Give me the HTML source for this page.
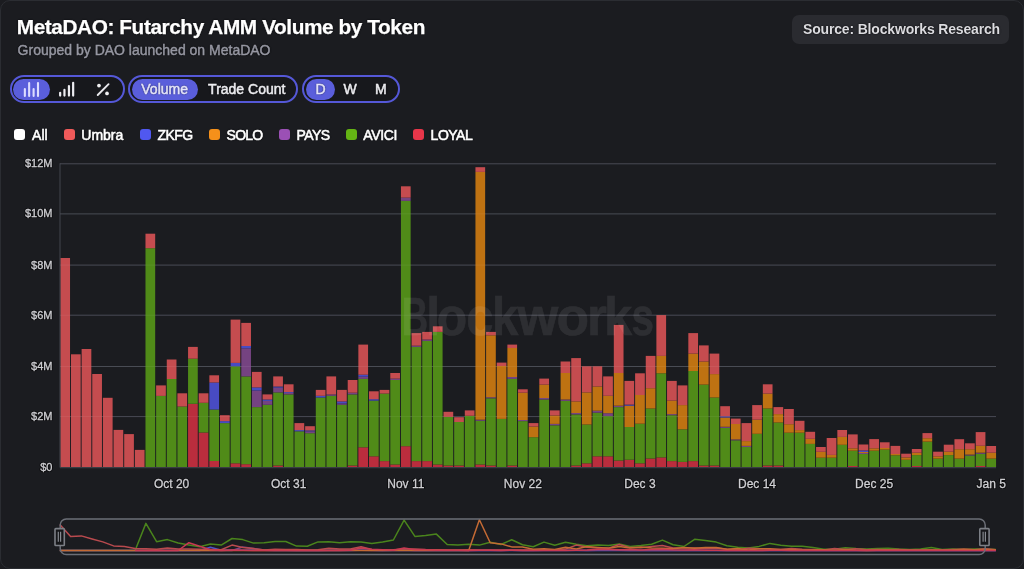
<!DOCTYPE html>
<html><head><meta charset="utf-8"><title>MetaDAO: Futarchy AMM Volume by Token</title>
<style>
html,body{margin:0;padding:0;background:#1b1c20;}
body{width:1024px;height:569px;overflow:hidden;position:relative;font-family:"Liberation Sans",Arial,sans-serif;}
.card{position:absolute;left:0;top:0;width:1022px;height:567px;border:1px solid #2b2d32;border-radius:10px;background:#1b1c20;}
.abs{position:absolute;white-space:nowrap;}
.halo{text-shadow:0 0 1.2px rgba(0,0,0,0.9),0 0 1.2px rgba(0,0,0,0.6);}
.title{left:16.8px;top:15px;font-size:20.8px;font-weight:700;color:#ffffff;letter-spacing:-0.42px;line-height:24px;-webkit-text-stroke:0.25px #fff;}
.sub{left:17.6px;top:41px;font-size:14px;color:#9697a2;line-height:18px;-webkit-text-stroke:0.45px #9697a2;}
.src{left:792px;top:15px;width:217px;height:29px;border-radius:7px;background:#2a2b30;}
.srct{left:803px;top:20px;font-size:14px;font-weight:700;color:#dcdce0;letter-spacing:-0.17px;line-height:18px;}
.pill{position:absolute;top:75px;height:24px;border:2px solid #5558d8;border-radius:14px;background:#17181c;}
.act{position:absolute;top:78.5px;height:21px;border-radius:11px;background:#5a5edb;}
.tg{position:absolute;top:79.7px;font-size:14px;line-height:18px;color:#ececf0;white-space:nowrap;-webkit-text-stroke:0.5px currentColor;}
.sw{position:absolute;top:129.2px;width:11px;height:11px;border-radius:3px;}
.lg{position:absolute;top:126.1px;font-size:14px;line-height:18px;color:#ffffff;white-space:nowrap;-webkit-text-stroke:0.55px currentColor;}
.chart{position:absolute;left:0;top:0;}
</style></head><body>
<div class="card"></div>
<div class="abs title halo">MetaDAO: Futarchy AMM Volume by Token</div>
<div class="abs sub halo">Grouped by DAO launched on MetaDAO</div>
<div class="abs src"></div>
<div class="abs srct halo">Source: Blockworks Research</div>

<div class="pill" style="left:10px;width:110.5px"></div>
<div class="act" style="left:13px;width:36.5px"></div>
<div class="pill" style="left:128.4px;width:165.7px"></div>
<div class="act" style="left:131.5px;width:66.4px"></div>
<div class="pill" style="left:302.3px;width:93.3px"></div>
<div class="act" style="left:305.8px;width:29px"></div>

<svg class="abs" style="left:22px;top:81px" width="20" height="16" viewBox="0 0 20 16"><g fill="#dcdcff"><rect x="1.8" y="6.9" width="2.1" height="9" rx="1"/><rect x="6.1" y="1.1" width="2.1" height="14.8" rx="1"/><rect x="10.55" y="6.9" width="2.1" height="9" rx="1"/><rect x="14.95" y="1.1" width="2.1" height="14.8" rx="1"/></g></svg>
<svg class="abs" style="left:57px;top:81.2px" width="20" height="16" viewBox="0 0 20 16"><g fill="#ececf0"><rect x="2.05" y="10.7" width="2.2" height="5" rx="1.1"/><rect x="6.35" y="7.8" width="2.2" height="7.9" rx="1.1"/><rect x="10.85" y="4" width="2.2" height="11.7" rx="1.1"/><rect x="15.05" y="0.7" width="2.2" height="15" rx="1.1"/></g></svg>
<svg class="abs" style="left:93px;top:81px" width="20" height="16" viewBox="0 0 20 16"><g fill="#f0f0f2"><circle cx="5.97" cy="4.54" r="1.85"/><circle cx="14.01" cy="12.47" r="1.85"/></g><line x1="15.56" y1="3.19" x2="4.73" y2="14.01" stroke="#e8e8ec" stroke-width="1.9" stroke-linecap="round"/></svg>

<div class="tg halo" style="left:141.3px;color:#e4e4ff">Volume</div>
<div class="tg halo" style="left:208.1px">Trade Count</div>
<div class="tg halo" style="left:315.5px;color:#e4e4ff">D</div>
<div class="tg halo" style="left:343.5px">W</div>
<div class="tg halo" style="left:375px">M</div>
<div class="sw" style="left:14.4px;background:#ffffff"></div><div class="lg halo" style="left:32.1px;letter-spacing:0px">All</div><div class="sw" style="left:63.6px;background:#f05a5a"></div><div class="lg halo" style="left:81.3px;letter-spacing:0px">Umbra</div><div class="sw" style="left:139.8px;background:#5058f0"></div><div class="lg halo" style="left:157.4px;letter-spacing:-0.5px">ZKFG</div><div class="sw" style="left:209.0px;background:#f5901a"></div><div class="lg halo" style="left:226.6px;letter-spacing:-0.75px">SOLO</div><div class="sw" style="left:278.8px;background:#9b50b5"></div><div class="lg halo" style="left:296.40000000000003px;letter-spacing:-0.55px">PAYS</div><div class="sw" style="left:345.5px;background:#64b414"></div><div class="lg halo" style="left:363.3px;letter-spacing:-0.35px">AVICI</div><div class="sw" style="left:412.7px;background:#e8364a"></div><div class="lg halo" style="left:430.6px;letter-spacing:-0.5px">LOYAL</div>
<svg class="chart" width="1024" height="569" viewBox="0 0 1024 569">
<g stroke="#3e414a" stroke-width="1"><line x1="60" x2="996" y1="416.60" y2="416.60"/><line x1="60" x2="996" y1="366.50" y2="366.50"/><line x1="60" x2="996" y1="315.20" y2="315.20"/><line x1="60" x2="996" y1="265.10" y2="265.10"/><line x1="60" x2="996" y1="213.90" y2="213.90"/><line x1="60" x2="996" y1="163.80" y2="163.80"/></g>
<g opacity="0.97"><rect x="60.33" y="258.00" width="9.7" height="209.00" fill="#cb4e51"/><rect x="70.97" y="354.30" width="9.7" height="112.70" fill="#cb4e51"/><rect x="81.62" y="349.00" width="9.7" height="118.00" fill="#cb4e51"/><rect x="92.26" y="374.00" width="9.7" height="93.00" fill="#cb4e51"/><rect x="102.91" y="397.80" width="9.7" height="69.20" fill="#cb4e51"/><rect x="113.55" y="429.90" width="9.7" height="37.10" fill="#cb4e51"/><rect x="124.19" y="434.10" width="9.7" height="32.90" fill="#cb4e51"/><rect x="134.84" y="449.90" width="9.7" height="17.10" fill="#cb4e51"/><rect x="145.48" y="248.20" width="9.7" height="218.80" fill="#528f18"/><rect x="145.48" y="233.70" width="9.7" height="14.50" fill="#cb4e51"/><rect x="156.13" y="395.90" width="9.7" height="71.10" fill="#528f18"/><rect x="156.13" y="385.40" width="9.7" height="10.50" fill="#cb4e51"/><rect x="166.77" y="379.00" width="9.7" height="88.00" fill="#528f18"/><rect x="166.77" y="359.50" width="9.7" height="19.50" fill="#cb4e51"/><rect x="177.41" y="406.50" width="9.7" height="60.50" fill="#528f18"/><rect x="177.41" y="393.30" width="9.7" height="13.20" fill="#cb4e51"/><rect x="188.06" y="403.80" width="9.7" height="63.20" fill="#c02e3e"/><rect x="188.06" y="358.70" width="9.7" height="45.10" fill="#528f18"/><rect x="188.06" y="346.90" width="9.7" height="11.80" fill="#cb4e51"/><rect x="198.70" y="432.50" width="9.7" height="34.50" fill="#c02e3e"/><rect x="198.70" y="402.80" width="9.7" height="29.70" fill="#528f18"/><rect x="198.70" y="393.30" width="9.7" height="9.50" fill="#cb4e51"/><rect x="209.35" y="461.00" width="9.7" height="6.00" fill="#c02e3e"/><rect x="209.35" y="409.50" width="9.7" height="51.50" fill="#528f18"/><rect x="209.35" y="382.50" width="9.7" height="27.00" fill="#4a4dc8"/><rect x="209.35" y="375.30" width="9.7" height="7.20" fill="#cb4e51"/><rect x="219.99" y="423.10" width="9.7" height="43.90" fill="#528f18"/><rect x="219.99" y="421.10" width="9.7" height="2.00" fill="#4a4dc8"/><rect x="219.99" y="415.20" width="9.7" height="5.90" fill="#cb4e51"/><rect x="230.63" y="463.30" width="9.7" height="3.70" fill="#c02e3e"/><rect x="230.63" y="366.30" width="9.7" height="97.00" fill="#528f18"/><rect x="230.63" y="362.90" width="9.7" height="3.40" fill="#4a4dc8"/><rect x="230.63" y="319.60" width="9.7" height="43.30" fill="#cb4e51"/><rect x="241.28" y="464.20" width="9.7" height="2.80" fill="#c02e3e"/><rect x="241.28" y="376.40" width="9.7" height="87.80" fill="#528f18"/><rect x="241.28" y="348.30" width="9.7" height="28.10" fill="#784585"/><rect x="241.28" y="346.00" width="9.7" height="2.30" fill="#4a4dc8"/><rect x="241.28" y="322.90" width="9.7" height="23.10" fill="#cb4e51"/><rect x="251.92" y="407.10" width="9.7" height="59.90" fill="#528f18"/><rect x="251.92" y="390.50" width="9.7" height="16.60" fill="#784585"/><rect x="251.92" y="387.40" width="9.7" height="3.10" fill="#4a4dc8"/><rect x="251.92" y="371.90" width="9.7" height="15.50" fill="#cb4e51"/><rect x="262.57" y="404.80" width="9.7" height="62.20" fill="#528f18"/><rect x="262.57" y="400.90" width="9.7" height="3.90" fill="#784585"/><rect x="262.57" y="399.50" width="9.7" height="1.40" fill="#4a4dc8"/><rect x="262.57" y="394.40" width="9.7" height="5.10" fill="#cb4e51"/><rect x="273.21" y="465.50" width="9.7" height="1.50" fill="#c02e3e"/><rect x="273.21" y="392.40" width="9.7" height="73.10" fill="#528f18"/><rect x="273.21" y="387.60" width="9.7" height="4.80" fill="#784585"/><rect x="273.21" y="386.50" width="9.7" height="1.10" fill="#4a4dc8"/><rect x="273.21" y="376.40" width="9.7" height="10.10" fill="#cb4e51"/><rect x="283.85" y="394.40" width="9.7" height="72.60" fill="#528f18"/><rect x="283.85" y="393.00" width="9.7" height="1.40" fill="#784585"/><rect x="283.85" y="392.10" width="9.7" height="0.90" fill="#4a4dc8"/><rect x="283.85" y="384.30" width="9.7" height="7.80" fill="#cb4e51"/><rect x="294.50" y="431.30" width="9.7" height="35.70" fill="#528f18"/><rect x="294.50" y="430.10" width="9.7" height="1.20" fill="#4a4dc8"/><rect x="294.50" y="423.10" width="9.7" height="7.00" fill="#cb4e51"/><rect x="305.14" y="433.20" width="9.7" height="33.80" fill="#528f18"/><rect x="305.14" y="431.30" width="9.7" height="1.90" fill="#784585"/><rect x="305.14" y="430.40" width="9.7" height="0.90" fill="#4a4dc8"/><rect x="305.14" y="426.20" width="9.7" height="4.20" fill="#cb4e51"/><rect x="315.79" y="397.50" width="9.7" height="69.50" fill="#528f18"/><rect x="315.79" y="395.80" width="9.7" height="1.70" fill="#4a4dc8"/><rect x="315.79" y="389.90" width="9.7" height="5.90" fill="#cb4e51"/><rect x="326.43" y="395.80" width="9.7" height="71.20" fill="#528f18"/><rect x="326.43" y="394.40" width="9.7" height="1.40" fill="#784585"/><rect x="326.43" y="376.40" width="9.7" height="18.00" fill="#cb4e51"/><rect x="337.07" y="404.80" width="9.7" height="62.20" fill="#528f18"/><rect x="337.07" y="403.40" width="9.7" height="1.40" fill="#784585"/><rect x="337.07" y="401.40" width="9.7" height="2.00" fill="#4a4dc8"/><rect x="337.07" y="389.90" width="9.7" height="11.50" fill="#cb4e51"/><rect x="347.72" y="465.50" width="9.7" height="1.50" fill="#c02e3e"/><rect x="347.72" y="394.40" width="9.7" height="71.10" fill="#528f18"/><rect x="347.72" y="392.70" width="9.7" height="1.70" fill="#784585"/><rect x="347.72" y="380.00" width="9.7" height="12.70" fill="#cb4e51"/><rect x="358.36" y="447.30" width="9.7" height="19.70" fill="#c02e3e"/><rect x="358.36" y="378.90" width="9.7" height="68.40" fill="#528f18"/><rect x="358.36" y="376.70" width="9.7" height="2.20" fill="#784585"/><rect x="358.36" y="374.70" width="9.7" height="2.00" fill="#4a4dc8"/><rect x="358.36" y="344.60" width="9.7" height="30.10" fill="#cb4e51"/><rect x="369.01" y="456.30" width="9.7" height="10.70" fill="#c02e3e"/><rect x="369.01" y="400.60" width="9.7" height="55.70" fill="#528f18"/><rect x="369.01" y="399.20" width="9.7" height="1.40" fill="#4a4dc8"/><rect x="369.01" y="391.30" width="9.7" height="7.90" fill="#cb4e51"/><rect x="379.65" y="461.10" width="9.7" height="5.90" fill="#c02e3e"/><rect x="379.65" y="393.60" width="9.7" height="67.50" fill="#528f18"/><rect x="379.65" y="389.90" width="9.7" height="3.70" fill="#cb4e51"/><rect x="390.29" y="464.50" width="9.7" height="2.50" fill="#c02e3e"/><rect x="390.29" y="380.00" width="9.7" height="84.50" fill="#528f18"/><rect x="390.29" y="378.60" width="9.7" height="1.40" fill="#784585"/><rect x="390.29" y="373.00" width="9.7" height="5.60" fill="#cb4e51"/><rect x="400.94" y="446.20" width="9.7" height="20.80" fill="#c02e3e"/><rect x="400.94" y="200.90" width="9.7" height="245.30" fill="#528f18"/><rect x="400.94" y="197.60" width="9.7" height="3.30" fill="#784585"/><rect x="400.94" y="186.30" width="9.7" height="11.30" fill="#cb4e51"/><rect x="411.58" y="461.10" width="9.7" height="5.90" fill="#c02e3e"/><rect x="411.58" y="346.90" width="9.7" height="114.20" fill="#528f18"/><rect x="411.58" y="345.70" width="9.7" height="1.20" fill="#784585"/><rect x="411.58" y="333.10" width="9.7" height="12.60" fill="#cb4e51"/><rect x="422.23" y="461.10" width="9.7" height="5.90" fill="#c02e3e"/><rect x="422.23" y="340.90" width="9.7" height="120.20" fill="#528f18"/><rect x="422.23" y="339.50" width="9.7" height="1.40" fill="#784585"/><rect x="422.23" y="331.90" width="9.7" height="7.60" fill="#cb4e51"/><rect x="432.87" y="464.50" width="9.7" height="2.50" fill="#c02e3e"/><rect x="432.87" y="331.90" width="9.7" height="132.60" fill="#528f18"/><rect x="432.87" y="326.30" width="9.7" height="5.60" fill="#cb4e51"/><rect x="443.51" y="465.50" width="9.7" height="1.50" fill="#c02e3e"/><rect x="443.51" y="416.90" width="9.7" height="48.60" fill="#528f18"/><rect x="443.51" y="411.80" width="9.7" height="5.10" fill="#cb4e51"/><rect x="454.16" y="465.50" width="9.7" height="1.50" fill="#c02e3e"/><rect x="454.16" y="422.00" width="9.7" height="43.50" fill="#528f18"/><rect x="454.16" y="417.20" width="9.7" height="4.80" fill="#cb4e51"/><rect x="464.80" y="415.80" width="9.7" height="51.20" fill="#528f18"/><rect x="464.80" y="410.40" width="9.7" height="5.40" fill="#cb4e51"/><rect x="475.45" y="464.50" width="9.7" height="2.50" fill="#c02e3e"/><rect x="475.45" y="420.80" width="9.7" height="43.70" fill="#528f18"/><rect x="475.45" y="419.70" width="9.7" height="1.10" fill="#784585"/><rect x="475.45" y="171.90" width="9.7" height="247.80" fill="#c47512"/><rect x="475.45" y="167.20" width="9.7" height="4.70" fill="#cb4e51"/><rect x="486.09" y="465.50" width="9.7" height="1.50" fill="#c02e3e"/><rect x="486.09" y="398.30" width="9.7" height="67.20" fill="#528f18"/><rect x="486.09" y="397.20" width="9.7" height="1.10" fill="#784585"/><rect x="486.09" y="335.30" width="9.7" height="61.90" fill="#c47512"/><rect x="486.09" y="331.90" width="9.7" height="3.40" fill="#cb4e51"/><rect x="496.73" y="418.90" width="9.7" height="48.10" fill="#528f18"/><rect x="496.73" y="366.00" width="9.7" height="52.90" fill="#c47512"/><rect x="496.73" y="362.60" width="9.7" height="3.40" fill="#cb4e51"/><rect x="507.38" y="465.50" width="9.7" height="1.50" fill="#c02e3e"/><rect x="507.38" y="378.90" width="9.7" height="86.60" fill="#528f18"/><rect x="507.38" y="377.00" width="9.7" height="1.90" fill="#784585"/><rect x="507.38" y="348.00" width="9.7" height="29.00" fill="#c47512"/><rect x="507.38" y="344.60" width="9.7" height="3.40" fill="#cb4e51"/><rect x="518.02" y="421.10" width="9.7" height="45.90" fill="#528f18"/><rect x="518.02" y="420.00" width="9.7" height="1.10" fill="#784585"/><rect x="518.02" y="392.70" width="9.7" height="27.30" fill="#c47512"/><rect x="518.02" y="389.30" width="9.7" height="3.40" fill="#cb4e51"/><rect x="528.67" y="437.20" width="9.7" height="29.80" fill="#528f18"/><rect x="528.67" y="426.50" width="9.7" height="10.70" fill="#c47512"/><rect x="528.67" y="423.10" width="9.7" height="3.40" fill="#cb4e51"/><rect x="539.31" y="399.50" width="9.7" height="67.50" fill="#528f18"/><rect x="539.31" y="398.00" width="9.7" height="1.50" fill="#784585"/><rect x="539.31" y="384.60" width="9.7" height="13.40" fill="#c47512"/><rect x="539.31" y="378.60" width="9.7" height="6.00" fill="#cb4e51"/><rect x="549.95" y="425.30" width="9.7" height="41.70" fill="#528f18"/><rect x="549.95" y="423.90" width="9.7" height="1.40" fill="#784585"/><rect x="549.95" y="415.50" width="9.7" height="8.40" fill="#c47512"/><rect x="549.95" y="410.40" width="9.7" height="5.10" fill="#cb4e51"/><rect x="560.60" y="400.90" width="9.7" height="66.10" fill="#528f18"/><rect x="560.60" y="399.50" width="9.7" height="1.40" fill="#784585"/><rect x="560.60" y="373.00" width="9.7" height="26.50" fill="#c47512"/><rect x="560.60" y="361.50" width="9.7" height="11.50" fill="#cb4e51"/><rect x="571.24" y="465.50" width="9.7" height="1.50" fill="#c02e3e"/><rect x="571.24" y="414.40" width="9.7" height="51.10" fill="#528f18"/><rect x="571.24" y="413.00" width="9.7" height="1.40" fill="#784585"/><rect x="571.24" y="401.40" width="9.7" height="11.60" fill="#c47512"/><rect x="571.24" y="358.10" width="9.7" height="43.30" fill="#cb4e51"/><rect x="581.89" y="463.30" width="9.7" height="3.70" fill="#c02e3e"/><rect x="581.89" y="424.50" width="9.7" height="38.80" fill="#528f18"/><rect x="581.89" y="392.40" width="9.7" height="32.10" fill="#c47512"/><rect x="581.89" y="366.30" width="9.7" height="26.10" fill="#cb4e51"/><rect x="592.53" y="456.30" width="9.7" height="10.70" fill="#c02e3e"/><rect x="592.53" y="412.70" width="9.7" height="43.60" fill="#528f18"/><rect x="592.53" y="410.70" width="9.7" height="2.00" fill="#784585"/><rect x="592.53" y="386.50" width="9.7" height="24.20" fill="#c47512"/><rect x="592.53" y="366.30" width="9.7" height="20.20" fill="#cb4e51"/><rect x="603.17" y="456.30" width="9.7" height="10.70" fill="#c02e3e"/><rect x="603.17" y="416.10" width="9.7" height="40.20" fill="#528f18"/><rect x="603.17" y="413.20" width="9.7" height="2.90" fill="#784585"/><rect x="603.17" y="395.80" width="9.7" height="17.40" fill="#c47512"/><rect x="603.17" y="376.40" width="9.7" height="19.40" fill="#cb4e51"/><rect x="613.82" y="460.50" width="9.7" height="6.50" fill="#c02e3e"/><rect x="613.82" y="407.10" width="9.7" height="53.40" fill="#528f18"/><rect x="613.82" y="405.70" width="9.7" height="1.40" fill="#784585"/><rect x="613.82" y="373.00" width="9.7" height="32.70" fill="#c47512"/><rect x="613.82" y="324.90" width="9.7" height="48.10" fill="#cb4e51"/><rect x="624.46" y="459.70" width="9.7" height="7.30" fill="#c02e3e"/><rect x="624.46" y="427.00" width="9.7" height="32.70" fill="#528f18"/><rect x="624.46" y="405.70" width="9.7" height="21.30" fill="#c47512"/><rect x="624.46" y="404.60" width="9.7" height="1.10" fill="#4a4dc8"/><rect x="624.46" y="380.90" width="9.7" height="23.70" fill="#cb4e51"/><rect x="635.11" y="463.30" width="9.7" height="3.70" fill="#c02e3e"/><rect x="635.11" y="423.70" width="9.7" height="39.60" fill="#528f18"/><rect x="635.11" y="395.00" width="9.7" height="28.70" fill="#c47512"/><rect x="635.11" y="373.30" width="9.7" height="21.70" fill="#cb4e51"/><rect x="645.75" y="458.50" width="9.7" height="8.50" fill="#c02e3e"/><rect x="645.75" y="408.50" width="9.7" height="50.00" fill="#528f18"/><rect x="645.75" y="388.20" width="9.7" height="20.30" fill="#c47512"/><rect x="645.75" y="355.90" width="9.7" height="32.30" fill="#cb4e51"/><rect x="656.39" y="457.40" width="9.7" height="9.60" fill="#c02e3e"/><rect x="656.39" y="373.30" width="9.7" height="84.10" fill="#528f18"/><rect x="656.39" y="355.90" width="9.7" height="17.40" fill="#c47512"/><rect x="656.39" y="315.10" width="9.7" height="40.80" fill="#cb4e51"/><rect x="667.04" y="461.10" width="9.7" height="5.90" fill="#c02e3e"/><rect x="667.04" y="415.20" width="9.7" height="45.90" fill="#528f18"/><rect x="667.04" y="414.10" width="9.7" height="1.10" fill="#784585"/><rect x="667.04" y="400.60" width="9.7" height="13.50" fill="#c47512"/><rect x="667.04" y="380.90" width="9.7" height="19.70" fill="#cb4e51"/><rect x="677.68" y="461.90" width="9.7" height="5.10" fill="#c02e3e"/><rect x="677.68" y="429.30" width="9.7" height="32.60" fill="#528f18"/><rect x="677.68" y="405.10" width="9.7" height="24.20" fill="#c47512"/><rect x="677.68" y="385.40" width="9.7" height="19.70" fill="#cb4e51"/><rect x="688.33" y="461.10" width="9.7" height="5.90" fill="#c02e3e"/><rect x="688.33" y="371.00" width="9.7" height="90.10" fill="#528f18"/><rect x="688.33" y="353.60" width="9.7" height="17.40" fill="#c47512"/><rect x="688.33" y="333.10" width="9.7" height="20.50" fill="#cb4e51"/><rect x="698.97" y="465.50" width="9.7" height="1.50" fill="#c02e3e"/><rect x="698.97" y="384.60" width="9.7" height="80.90" fill="#528f18"/><rect x="698.97" y="361.50" width="9.7" height="23.10" fill="#c47512"/><rect x="698.97" y="345.40" width="9.7" height="16.10" fill="#cb4e51"/><rect x="709.61" y="465.50" width="9.7" height="1.50" fill="#c02e3e"/><rect x="709.61" y="397.50" width="9.7" height="68.00" fill="#528f18"/><rect x="709.61" y="374.10" width="9.7" height="23.40" fill="#c47512"/><rect x="709.61" y="353.60" width="9.7" height="20.50" fill="#cb4e51"/><rect x="720.26" y="427.90" width="9.7" height="39.10" fill="#528f18"/><rect x="720.26" y="426.80" width="9.7" height="1.10" fill="#784585"/><rect x="720.26" y="417.50" width="9.7" height="9.30" fill="#c47512"/><rect x="720.26" y="416.30" width="9.7" height="1.20" fill="#4a4dc8"/><rect x="720.26" y="406.20" width="9.7" height="10.10" fill="#cb4e51"/><rect x="730.90" y="440.30" width="9.7" height="26.70" fill="#528f18"/><rect x="730.90" y="439.40" width="9.7" height="0.90" fill="#784585"/><rect x="730.90" y="424.00" width="9.7" height="15.40" fill="#c47512"/><rect x="730.90" y="418.60" width="9.7" height="5.40" fill="#cb4e51"/><rect x="741.55" y="447.00" width="9.7" height="20.00" fill="#528f18"/><rect x="741.55" y="445.90" width="9.7" height="1.10" fill="#784585"/><rect x="741.55" y="441.10" width="9.7" height="4.80" fill="#c47512"/><rect x="741.55" y="423.10" width="9.7" height="18.00" fill="#cb4e51"/><rect x="752.19" y="433.80" width="9.7" height="33.20" fill="#528f18"/><rect x="752.19" y="419.70" width="9.7" height="14.10" fill="#c47512"/><rect x="752.19" y="405.10" width="9.7" height="14.60" fill="#cb4e51"/><rect x="762.83" y="465.50" width="9.7" height="1.50" fill="#c02e3e"/><rect x="762.83" y="408.50" width="9.7" height="57.00" fill="#528f18"/><rect x="762.83" y="393.60" width="9.7" height="14.90" fill="#c47512"/><rect x="762.83" y="384.30" width="9.7" height="9.30" fill="#cb4e51"/><rect x="773.48" y="465.50" width="9.7" height="1.50" fill="#c02e3e"/><rect x="773.48" y="422.50" width="9.7" height="43.00" fill="#528f18"/><rect x="773.48" y="414.10" width="9.7" height="8.40" fill="#c47512"/><rect x="773.48" y="407.10" width="9.7" height="7.00" fill="#cb4e51"/><rect x="784.12" y="432.70" width="9.7" height="34.30" fill="#528f18"/><rect x="784.12" y="424.20" width="9.7" height="8.50" fill="#c47512"/><rect x="784.12" y="409.00" width="9.7" height="15.20" fill="#cb4e51"/><rect x="794.77" y="432.70" width="9.7" height="34.30" fill="#528f18"/><rect x="794.77" y="430.10" width="9.7" height="2.60" fill="#c47512"/><rect x="794.77" y="420.80" width="9.7" height="9.30" fill="#cb4e51"/><rect x="805.41" y="443.90" width="9.7" height="23.10" fill="#528f18"/><rect x="805.41" y="438.80" width="9.7" height="5.10" fill="#c47512"/><rect x="805.41" y="431.80" width="9.7" height="7.00" fill="#cb4e51"/><rect x="816.05" y="457.70" width="9.7" height="9.30" fill="#528f18"/><rect x="816.05" y="451.80" width="9.7" height="5.90" fill="#c47512"/><rect x="816.05" y="447.00" width="9.7" height="4.80" fill="#cb4e51"/><rect x="826.70" y="457.70" width="9.7" height="9.30" fill="#528f18"/><rect x="826.70" y="454.90" width="9.7" height="2.80" fill="#c47512"/><rect x="826.70" y="438.00" width="9.7" height="16.90" fill="#cb4e51"/><rect x="837.34" y="444.80" width="9.7" height="22.20" fill="#528f18"/><rect x="837.34" y="436.90" width="9.7" height="7.90" fill="#c47512"/><rect x="837.34" y="430.00" width="9.7" height="6.90" fill="#cb4e51"/><rect x="847.99" y="466.00" width="9.7" height="1.00" fill="#c02e3e"/><rect x="847.99" y="450.70" width="9.7" height="15.30" fill="#528f18"/><rect x="847.99" y="448.30" width="9.7" height="2.40" fill="#c47512"/><rect x="847.99" y="434.40" width="9.7" height="13.90" fill="#cb4e51"/><rect x="858.63" y="454.00" width="9.7" height="13.00" fill="#528f18"/><rect x="858.63" y="453.00" width="9.7" height="1.00" fill="#784585"/><rect x="858.63" y="452.00" width="9.7" height="1.00" fill="#c47512"/><rect x="858.63" y="450.40" width="9.7" height="1.60" fill="#4a4dc8"/><rect x="858.63" y="444.50" width="9.7" height="5.90" fill="#cb4e51"/><rect x="869.27" y="450.70" width="9.7" height="16.30" fill="#528f18"/><rect x="869.27" y="448.30" width="9.7" height="2.40" fill="#c47512"/><rect x="869.27" y="439.10" width="9.7" height="9.20" fill="#cb4e51"/><rect x="879.92" y="449.60" width="9.7" height="17.40" fill="#528f18"/><rect x="879.92" y="448.00" width="9.7" height="1.60" fill="#c47512"/><rect x="879.92" y="442.30" width="9.7" height="5.70" fill="#cb4e51"/><rect x="890.56" y="455.30" width="9.7" height="11.70" fill="#528f18"/><rect x="890.56" y="454.00" width="9.7" height="1.30" fill="#c47512"/><rect x="890.56" y="445.90" width="9.7" height="8.10" fill="#cb4e51"/><rect x="901.21" y="459.80" width="9.7" height="7.20" fill="#528f18"/><rect x="901.21" y="457.40" width="9.7" height="2.40" fill="#c47512"/><rect x="901.21" y="453.70" width="9.7" height="3.70" fill="#cb4e51"/><rect x="911.85" y="466.00" width="9.7" height="1.00" fill="#c02e3e"/><rect x="911.85" y="455.10" width="9.7" height="10.90" fill="#528f18"/><rect x="911.85" y="452.70" width="9.7" height="2.40" fill="#c47512"/><rect x="911.85" y="449.00" width="9.7" height="3.70" fill="#cb4e51"/><rect x="922.49" y="441.60" width="9.7" height="25.40" fill="#528f18"/><rect x="922.49" y="438.20" width="9.7" height="3.40" fill="#c47512"/><rect x="922.49" y="433.10" width="9.7" height="5.10" fill="#cb4e51"/><rect x="933.14" y="458.60" width="9.7" height="8.40" fill="#528f18"/><rect x="933.14" y="456.30" width="9.7" height="2.30" fill="#c47512"/><rect x="933.14" y="451.70" width="9.7" height="4.60" fill="#cb4e51"/><rect x="943.78" y="455.10" width="9.7" height="11.90" fill="#528f18"/><rect x="943.78" y="451.70" width="9.7" height="3.40" fill="#c47512"/><rect x="943.78" y="444.70" width="9.7" height="7.00" fill="#cb4e51"/><rect x="954.43" y="458.60" width="9.7" height="8.40" fill="#528f18"/><rect x="954.43" y="449.20" width="9.7" height="9.40" fill="#c47512"/><rect x="954.43" y="439.20" width="9.7" height="10.00" fill="#cb4e51"/><rect x="965.07" y="455.50" width="9.7" height="11.50" fill="#528f18"/><rect x="965.07" y="454.60" width="9.7" height="0.90" fill="#784585"/><rect x="965.07" y="449.20" width="9.7" height="5.40" fill="#c47512"/><rect x="965.07" y="443.30" width="9.7" height="5.90" fill="#cb4e51"/><rect x="975.71" y="466.00" width="9.7" height="1.00" fill="#c02e3e"/><rect x="975.71" y="453.80" width="9.7" height="12.20" fill="#528f18"/><rect x="975.71" y="452.70" width="9.7" height="1.10" fill="#784585"/><rect x="975.71" y="445.80" width="9.7" height="6.90" fill="#c47512"/><rect x="975.71" y="432.10" width="9.7" height="13.70" fill="#cb4e51"/><rect x="986.36" y="458.60" width="9.7" height="8.40" fill="#528f18"/><rect x="986.36" y="452.70" width="9.7" height="5.90" fill="#c47512"/><rect x="986.36" y="446.00" width="9.7" height="6.70" fill="#cb4e51"/></g>
<line x1="60" x2="60" y1="163.3" y2="467.5" stroke="#42454d" stroke-width="1"/>
<g stroke="#ffffff" stroke-opacity="0.06" stroke-width="1"><line x1="60" x2="996" y1="416.60" y2="416.60"/><line x1="60" x2="996" y1="366.50" y2="366.50"/><line x1="60" x2="996" y1="315.20" y2="315.20"/><line x1="60" x2="996" y1="265.10" y2="265.10"/><line x1="60" x2="996" y1="213.90" y2="213.90"/><line x1="60" x2="996" y1="163.80" y2="163.80"/></g>
<line x1="60" x2="996" y1="467.7" y2="467.7" stroke="#3a3d44" stroke-width="1.2"/>
<g opacity="0.08" font-family="Liberation Sans" font-weight="700" font-size="53" fill="#ffffff" stroke="#ffffff" stroke-width="0.5"><text x="0" y="334.9" transform="translate(401.84 0) scale(0.688 1)">B</text><text x="0" y="334.9" transform="translate(426.15 0) scale(0.950 1)">l</text><text x="0" y="334.9" transform="translate(436.82 0) scale(0.941 1)">o</text><text x="0" y="334.9" transform="translate(466.15 0) scale(0.923 1)">c</text><text x="0" y="334.9" transform="translate(492.11 0) scale(0.896 1)">k</text><text x="0" y="334.9" transform="translate(517.40 0) scale(0.990 1)">w</text><text x="0" y="334.9" transform="translate(556.59 0) scale(1.007 1)">o</text><text x="0" y="334.9" transform="translate(587.01 0) scale(0.965 1)">r</text><text x="0" y="334.9" transform="translate(603.93 0) scale(0.956 1)">k</text><text x="0" y="334.9" transform="translate(631.48 0) scale(0.762 1)">s</text></g>
<g font-family="Liberation Sans" font-size="11" fill="#cfcfd3" stroke="#0c0c0e" stroke-width="2.2" stroke-linejoin="round"><text x="52.5" y="470.50" text-anchor="end">$0</text><text x="52.5" y="420.10" text-anchor="end">$2M</text><text x="52.5" y="370.00" text-anchor="end">$4M</text><text x="52.5" y="318.70" text-anchor="end">$6M</text><text x="52.5" y="268.60" text-anchor="end">$8M</text><text x="52.5" y="217.40" text-anchor="end">$10M</text><text x="52.5" y="167.30" text-anchor="end">$12M</text></g>
<g font-family="Liberation Sans" font-size="11" fill="#cfcfd3" stroke="#cfcfd3" stroke-width="0.3"><text x="52.5" y="470.50" text-anchor="end">$0</text><text x="52.5" y="420.10" text-anchor="end">$2M</text><text x="52.5" y="370.00" text-anchor="end">$4M</text><text x="52.5" y="318.70" text-anchor="end">$6M</text><text x="52.5" y="268.60" text-anchor="end">$8M</text><text x="52.5" y="217.40" text-anchor="end">$10M</text><text x="52.5" y="167.30" text-anchor="end">$12M</text></g>
<g font-family="Liberation Sans" font-size="12" fill="#cfcfd3" stroke="#0c0c0e" stroke-width="2.2" stroke-linejoin="round"><text x="171.62" y="487.9" text-anchor="middle">Oct 20</text><text x="288.70" y="487.9" text-anchor="middle">Oct 31</text><text x="405.79" y="487.9" text-anchor="middle">Nov 11</text><text x="522.87" y="487.9" text-anchor="middle">Nov 22</text><text x="639.96" y="487.9" text-anchor="middle">Dec 3</text><text x="757.04" y="487.9" text-anchor="middle">Dec 14</text><text x="874.12" y="487.9" text-anchor="middle">Dec 25</text><text x="991.21" y="487.9" text-anchor="middle">Jan 5</text></g>
<g font-family="Liberation Sans" font-size="12" fill="#cfcfd3" stroke="#cfcfd3" stroke-width="0.3"><text x="171.62" y="487.9" text-anchor="middle">Oct 20</text><text x="288.70" y="487.9" text-anchor="middle">Oct 31</text><text x="405.79" y="487.9" text-anchor="middle">Nov 11</text><text x="522.87" y="487.9" text-anchor="middle">Nov 22</text><text x="639.96" y="487.9" text-anchor="middle">Dec 3</text><text x="757.04" y="487.9" text-anchor="middle">Dec 14</text><text x="874.12" y="487.9" text-anchor="middle">Dec 25</text><text x="991.21" y="487.9" text-anchor="middle">Jan 5</text></g>
<g><polyline points="59.8,550.5 70.6,550.5 81.3,550.5 92.1,550.5 102.8,550.5 113.6,550.5 124.4,550.5 135.1,550.5 145.9,550.5 156.6,550.5 167.4,550.5 178.2,550.5 188.9,550.5 199.7,550.5 210.4,547.2 221.2,550.3 232.0,550.1 242.7,550.2 253.5,550.1 264.2,550.3 275.0,550.4 285.8,550.4 296.5,550.4 307.3,550.4 318.0,550.3 328.8,550.5 339.6,550.3 350.3,550.5 361.1,550.3 371.8,550.3 382.6,550.5 393.4,550.5 404.1,550.5 414.9,550.5 425.6,550.5 436.4,550.5 447.2,550.5 457.9,550.5 468.7,550.5 479.4,550.5 490.2,550.5 501.0,550.5 511.7,550.5 522.5,550.5 533.2,550.5 544.0,550.5 554.8,550.5 565.5,550.5 576.3,550.5 587.0,550.5 597.8,550.5 608.6,550.5 619.3,550.5 630.1,550.4 640.8,550.5 651.6,550.5 662.4,550.5 673.1,550.5 683.9,550.5 694.6,550.5 705.4,550.5 716.2,550.5 726.9,550.4 737.7,550.5 748.4,550.5 759.2,550.5 770.0,550.5 780.7,550.5 791.5,550.5 802.2,550.5 813.0,550.5 823.8,550.5 834.5,550.5 845.3,550.5 856.0,550.5 866.8,550.3 877.6,550.5 888.3,550.5 899.1,550.5 909.8,550.5 920.6,550.5 931.4,550.5 942.1,550.5 952.9,550.5 963.6,550.5 974.4,550.5 985.2,550.5 995.9,550.5" fill="none" stroke="#4a52d0" stroke-width="1.5" stroke-linejoin="round"/><polyline points="59.8,550.5 70.6,550.5 81.3,550.5 92.1,550.5 102.8,550.5 113.6,550.5 124.4,550.5 135.1,550.5 145.9,523.4 156.6,541.7 167.4,539.6 178.2,543.0 188.9,544.9 199.7,546.8 210.4,544.1 221.2,545.1 232.0,538.5 242.7,539.6 253.5,543.1 264.2,542.8 275.0,541.4 285.8,541.5 296.5,546.1 307.3,546.3 318.0,541.9 328.8,541.7 339.6,542.8 350.3,541.7 361.1,542.0 371.8,543.6 382.6,542.1 393.4,540.0 404.1,520.1 414.9,536.4 425.6,535.6 436.4,534.1 447.2,544.5 457.9,545.1 468.7,544.2 479.4,545.1 490.2,542.2 501.0,544.5 511.7,539.8 522.5,544.8 533.2,546.8 544.0,542.1 554.8,545.3 565.5,542.3 576.3,544.2 587.0,545.7 597.8,545.1 608.6,545.5 619.3,543.9 630.1,546.4 640.8,545.6 651.6,544.3 662.4,540.1 673.1,544.8 683.9,546.5 694.6,539.3 705.4,540.5 716.2,542.1 726.9,545.7 737.7,547.2 748.4,548.0 759.2,546.4 770.0,543.4 780.7,545.2 791.5,546.3 802.2,546.3 813.0,547.6 823.8,549.3 834.5,549.3 845.3,547.7 856.0,548.6 866.8,548.9 877.6,548.5 888.3,548.3 899.1,549.1 909.8,549.6 920.6,549.1 931.4,547.4 942.1,549.5 952.9,549.0 963.6,549.5 974.4,549.1 985.2,549.0 995.9,549.5" fill="none" stroke="#4a841c" stroke-width="1.5" stroke-linejoin="round"/><polyline points="59.8,550.5 70.6,550.5 81.3,550.5 92.1,550.5 102.8,550.5 113.6,550.5 124.4,550.5 135.1,550.5 145.9,550.5 156.6,550.5 167.4,550.5 178.2,550.5 188.9,550.5 199.7,550.5 210.4,550.5 221.2,550.5 232.0,550.5 242.7,547.0 253.5,548.4 264.2,550.0 275.0,549.9 285.8,550.3 296.5,550.5 307.3,550.3 318.0,550.5 328.8,550.3 339.6,550.3 350.3,550.3 361.1,550.2 371.8,550.5 382.6,550.5 393.4,550.3 404.1,550.1 414.9,550.4 425.6,550.3 436.4,550.5 447.2,550.5 457.9,550.5 468.7,550.5 479.4,550.4 490.2,550.4 501.0,550.5 511.7,550.3 522.5,550.4 533.2,550.5 544.0,550.3 554.8,550.3 565.5,550.3 576.3,550.3 587.0,550.5 597.8,550.3 608.6,550.1 619.3,550.3 630.1,550.5 640.8,550.5 651.6,550.5 662.4,550.5 673.1,550.4 683.9,550.5 694.6,550.5 705.4,550.5 716.2,550.5 726.9,550.4 737.7,550.4 748.4,550.4 759.2,550.5 770.0,550.5 780.7,550.5 791.5,550.5 802.2,550.5 813.0,550.5 823.8,550.5 834.5,550.5 845.3,550.5 856.0,550.5 866.8,550.4 877.6,550.5 888.3,550.5 899.1,550.5 909.8,550.5 920.6,550.5 931.4,550.5 942.1,550.5 952.9,550.5 963.6,550.5 974.4,550.4 985.2,550.4 995.9,550.5" fill="none" stroke="#7a4488" stroke-width="1.5" stroke-linejoin="round"/><polyline points="59.8,524.6 70.6,536.5 81.3,535.9 92.1,539.0 102.8,541.9 113.6,545.9 124.4,546.4 135.1,548.4 145.9,548.7 156.6,549.2 167.4,548.1 178.2,548.9 188.9,549.0 199.7,549.3 210.4,549.6 221.2,549.8 232.0,545.1 242.7,547.6 253.5,548.6 264.2,549.9 275.0,549.2 285.8,549.5 296.5,549.6 307.3,550.0 318.0,549.8 328.8,548.3 339.6,549.1 350.3,548.9 361.1,546.8 371.8,549.5 382.6,550.0 393.4,549.8 404.1,549.1 414.9,548.9 425.6,549.6 436.4,549.8 447.2,549.9 457.9,549.9 468.7,549.8 479.4,549.9 490.2,550.1 501.0,550.1 511.7,550.1 522.5,550.1 533.2,550.1 544.0,549.8 554.8,549.9 565.5,549.1 576.3,545.1 587.0,547.3 597.8,548.0 608.6,548.1 619.3,544.5 630.1,547.6 640.8,547.8 651.6,546.5 662.4,545.4 673.1,548.1 683.9,548.1 694.6,548.0 705.4,548.5 716.2,548.0 726.9,549.2 737.7,549.8 748.4,548.3 759.2,548.7 770.0,549.3 780.7,549.6 791.5,548.6 802.2,549.3 813.0,549.6 823.8,549.9 834.5,548.4 845.3,549.6 856.0,548.8 866.8,549.8 877.6,549.4 888.3,549.8 899.1,549.5 909.8,550.0 920.6,550.0 931.4,549.9 942.1,549.9 952.9,549.6 963.6,549.3 974.4,549.8 985.2,548.8 995.9,549.7" fill="none" stroke="#b94a4e" stroke-width="1.5" stroke-linejoin="round"/><polyline points="59.8,550.5 70.6,550.5 81.3,550.5 92.1,550.5 102.8,550.5 113.6,550.5 124.4,550.5 135.1,550.5 145.9,550.5 156.6,550.5 167.4,550.5 178.2,550.5 188.9,550.5 199.7,550.5 210.4,550.5 221.2,550.5 232.0,550.5 242.7,550.5 253.5,550.5 264.2,550.5 275.0,550.5 285.8,550.5 296.5,550.5 307.3,550.5 318.0,550.5 328.8,550.5 339.6,550.5 350.3,550.5 361.1,550.5 371.8,550.5 382.6,550.5 393.4,550.5 404.1,550.5 414.9,550.5 425.6,550.5 436.4,550.5 447.2,550.5 457.9,550.5 468.7,550.5 479.4,519.8 490.2,542.8 501.0,543.9 511.7,546.9 522.5,547.1 533.2,549.2 544.0,548.8 554.8,549.5 565.5,547.2 576.3,549.1 587.0,546.5 597.8,547.5 608.6,548.3 619.3,546.4 630.1,547.9 640.8,546.9 651.6,548.0 662.4,548.3 673.1,548.8 683.9,547.5 694.6,548.3 705.4,547.6 716.2,547.6 726.9,549.3 737.7,548.6 748.4,549.9 759.2,548.8 770.0,548.7 780.7,549.5 791.5,549.4 802.2,550.2 813.0,549.9 823.8,549.8 834.5,550.2 845.3,549.5 856.0,550.2 866.8,550.4 877.6,550.2 888.3,550.3 899.1,550.3 909.8,550.2 920.6,550.2 931.4,550.1 942.1,550.2 952.9,550.1 963.6,549.3 974.4,549.8 985.2,549.6 995.9,549.8" fill="none" stroke="#c46a34" stroke-width="1.5" stroke-linejoin="round"/><polyline points="135.1,550.5 145.9,550.5 156.6,550.5 167.4,550.5 178.2,550.5 188.9,542.7 199.7,546.2 210.4,549.8 221.2,550.5 232.0,550.0 242.7,550.2 253.5,550.5 264.2,550.5 275.0,550.3 285.8,550.5 296.5,550.5 307.3,550.5 318.0,550.5 328.8,550.5 339.6,550.5 350.3,550.3 361.1,548.1 371.8,549.2 382.6,549.8 393.4,550.2 404.1,547.9 414.9,549.8 425.6,549.8 436.4,550.2 447.2,550.3 457.9,550.3 468.7,550.5 479.4,550.2 490.2,550.3 501.0,550.5 511.7,550.3 522.5,550.5 533.2,550.5 544.0,550.5 554.8,550.5 565.5,550.5 576.3,550.3 587.0,550.0 597.8,549.2 608.6,549.2 619.3,549.7 630.1,549.6 640.8,550.0 651.6,549.4 662.4,549.3 673.1,549.8 683.9,549.9 694.6,549.8 705.4,550.3 716.2,550.3 726.9,550.5 737.7,550.5 748.4,550.5 759.2,550.5 770.0,550.3 780.7,550.3 791.5,550.5 802.2,550.5 813.0,550.5 823.8,550.5 834.5,550.5 845.3,550.5 856.0,550.4 866.8,550.5 877.6,550.5 888.3,550.5 899.1,550.5 909.8,550.5 920.6,550.4 931.4,550.5 942.1,550.5 952.9,550.5 963.6,550.5 974.4,550.5 985.2,550.4 995.9,550.5" fill="none" stroke="#c83a52" stroke-width="1.5" stroke-linejoin="round"/></g>
<rect x="60.2" y="519" width="925" height="35.6" rx="6" fill="none" stroke="#6c6f77" stroke-width="1.5"/>
<rect x="55" y="528.6" width="9.3" height="16.9" rx="0.8" fill="#16171a" stroke="#7c7f86" stroke-width="1.6"/>
<line x1="58.3" x2="58.3" y1="531.8" y2="541.8" stroke="#868990" stroke-width="1.2"/>
<line x1="60.6" x2="60.6" y1="531.8" y2="541.8" stroke="#868990" stroke-width="1.2"/>
<rect x="979.8" y="528.6" width="9.3" height="16.9" rx="0.8" fill="#16171a" stroke="#7c7f86" stroke-width="1.6"/>
<line x1="983.1" x2="983.1" y1="531.8" y2="541.8" stroke="#868990" stroke-width="1.2"/>
<line x1="985.4" x2="985.4" y1="531.8" y2="541.8" stroke="#868990" stroke-width="1.2"/>
</svg>
</body></html>
